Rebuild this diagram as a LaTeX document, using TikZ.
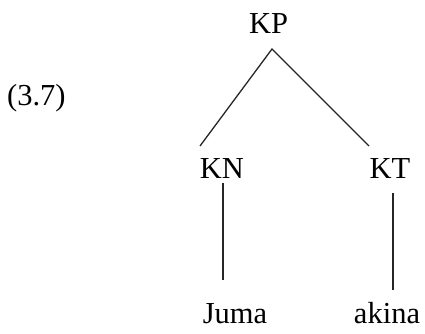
\documentclass[tikz,border=0pt]{standalone}
\usepackage{fontspec}
\setmainfont{Liberation Serif}
\begin{document}
\begin{tikzpicture}[x=1pt,y=1pt,
  lbl/.style={inner sep=0pt, anchor=base, font=\fontsize{30.5}{36}\selectfont},
  edge/.style={line width=1.3pt, black!85}]
\useasboundingbox (0,0) rectangle (425,333);
\node[lbl] (KP) at (268.5,300) {KP};
\node[lbl, anchor=base west] (ex) at (7,228) {(3.7)};
\node[lbl] (KN) at (222,155) {KN};
\node[lbl] (KT) at (390,155) {KT};
\node[lbl] (juma) at (235,10) {Juma};
\node[lbl] (akina) at (387,10) {akina};
\draw[edge] ([shift={(-22,32)}]KN.base) -- ([shift={(3.5,-16)}]KP.base) -- ([shift={(-21,32)}]KT.base);
\draw[edge] ([shift={(1,-5)}]KN.base) -- ([shift={(-12,43)}]juma.base);
\draw[edge] ([shift={(3,-15)}]KT.base) -- ([shift={(6,33)}]akina.base);
\end{tikzpicture}
\end{document}
